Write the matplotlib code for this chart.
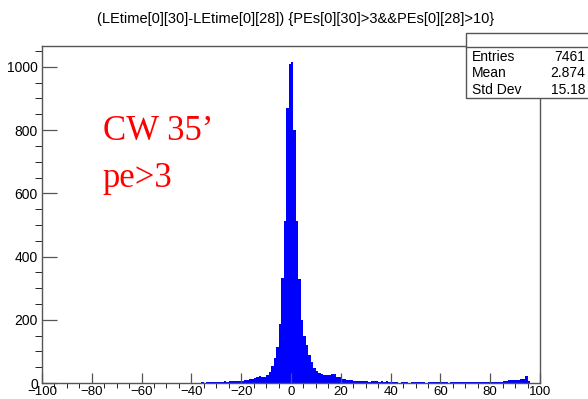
import numpy as np
import matplotlib
matplotlib.use('Agg')
import matplotlib.pyplot as plt
from matplotlib.patches import Rectangle
from matplotlib.lines import Line2D
from matplotlib.ticker import MultipleLocator

# time difference histogram, 200 bins of width 1 between -100 and 100
bin_lo = -100
bin_hi = 100
counts = [
    0, 0, 0, 0, 0, 0, 0, 0, 0, 0, 0, 0, 0, 0, 0, 0, 0, 0, 0, 0,          # -100 .. -81
    0, 0, 0, 0, 0, 0, 0, 0, 0, 0, 0, 0, 0, 0, 0, 0, 0, 0, 0, 0,          # -80 .. -61
    0, 0, 0, 0, 0, 0, 0, 0, 0, 0, 0, 0, 0, 0, 0, 0, 0, 0, 0, 0,          # -60 .. -41
    1, 0, 1, 1, 2, 1, 2, 3, 2, 3, 4, 3, 4, 5, 4, 5, 6, 6, 5, 6,          # -40 .. -21
    7, 9, 11, 12, 13, 15, 19, 22, 20, 18, 26, 35, 55, 80, 115, 188, 331, 514, 871, 1008,  # -20 .. -1
    1016, 801, 512, 330, 200, 150, 120, 88, 67, 48, 38, 31, 30, 25, 25, 24, 28, 27, 18, 18,  # 0 .. 19
    14, 14, 10, 10, 9, 7, 7, 6, 7, 5, 5, 4, 5, 5, 6, 4, 5, 4, 5, 3,     # 20 .. 39
    3, 2, 3, 0, 3, 2, 3, 1, 3, 2, 3, 3, 2, 3, 1, 3, 3, 2, 3, 3,          # 40 .. 59
    2, 3, 3, 1, 3, 2, 3, 3, 2, 3, 3, 2, 3, 3, 3, 2, 3, 3, 3, 4,          # 60 .. 79
    3, 3, 3, 4, 4, 6, 7, 8, 9, 9, 10, 10, 12, 13, 22, 5, 0, 0, 0, 0,     # 80 .. 99
]
edges = np.linspace(bin_lo, bin_hi, len(counts) + 1)

title = '(LEtime[0][30]-LEtime[0][28]) {PEs[0][30]>3&&PEs[0][28]>10}'
stat_names = ['Entries', 'Mean', 'Std Dev']
stat_values = ['7461', '2.874', '15.18']

plt.rcParams['font.family'] = ['Liberation Sans', 'DejaVu Sans']
frame_col = '#555555'

fig = plt.figure(figsize=(5.88, 3.99), dpi=100)
ax = fig.add_axes([0.0714, 0.0401, 0.847, 0.8446])

ax.stairs(counts, edges, fill=True, color='#0000ff', linewidth=0, zorder=1)

ax.set_xlim(bin_lo, bin_hi)
ax.set_ylim(0, 1066)

ax.xaxis.set_major_locator(MultipleLocator(20))
ax.xaxis.set_minor_locator(MultipleLocator(5))
ax.yaxis.set_major_locator(MultipleLocator(200))
ax.yaxis.set_minor_locator(MultipleLocator(50))

ax.tick_params(direction='in', colors=frame_col, labelcolor='black',
               labelsize=10, width=0.9)
ax.tick_params(axis='x', which='major', length=7.2, pad=2, labelsize=9.5)
ax.tick_params(axis='x', which='minor', length=3.6)
ax.tick_params(axis='y', which='major', length=10.8, pad=3)
ax.tick_params(axis='y', which='minor', length=5.4)

for sp in ax.spines.values():
    sp.set_color(frame_col)
    sp.set_linewidth(1.0)

fig.text(0.502, 0.953, title, ha='center', va='center', fontsize=10.5)

# red annotation
serif = ['Liberation Serif', 'DejaVu Serif']
fig.text(0.175, 0.649, 'CW 35\u2019', color='#ff0000', fontsize=25,
         family=serif, va='baseline')
fig.text(0.175, 0.531, 'pe>3', color='#ff0000', fontsize=25,
         family=serif, va='baseline')

# stats box in the top right corner
bx0, bx1 = 466 / 588, 1.01
by_top, by_div, by_bot = 1 - 32.7 / 399, 1 - 46.7 / 399, 1 - 98.3 / 399
box = Rectangle((bx0, by_bot), bx1 - bx0, by_top - by_bot, transform=fig.transFigure,
                facecolor='white', edgecolor=frame_col, linewidth=1.0, zorder=5)
fig.add_artist(box)
fig.add_artist(Line2D([bx0, bx1], [by_div, by_div], transform=fig.transFigure,
                      color=frame_col, linewidth=1.0, zorder=6))
row_y = [1 - 56.7 / 399, 1 - 73.3 / 399, 1 - 90 / 399]
for name, val, y in zip(stat_names, stat_values, row_y):
    fig.text(472 / 588, y, name, ha='left', va='center', fontsize=10, zorder=7)
    fig.text(585 / 588, y, val, ha='right', va='center', fontsize=10, zorder=7)

fig.savefig('out.png', dpi=100)
